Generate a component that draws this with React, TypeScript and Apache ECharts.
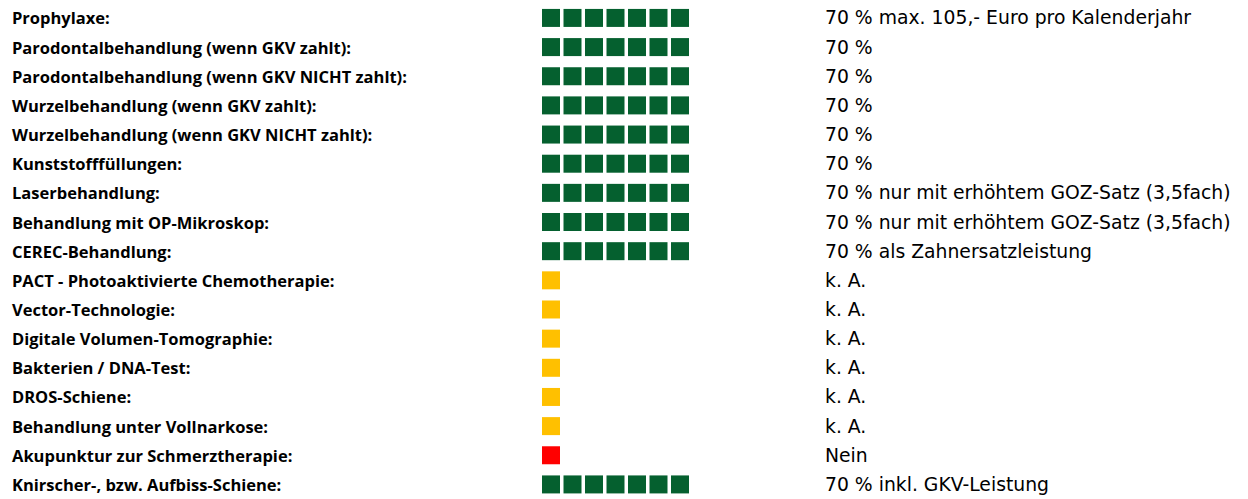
import React, { useEffect, useRef } from "react";
import * as echarts from "echarts";

const categories = [
  "Prophylaxe:",
  "Parodontalbehandlung (wenn GKV zahlt):",
  "Parodontalbehandlung (wenn GKV NICHT zahlt):",
  "Wurzelbehandlung (wenn GKV zahlt):",
  "Wurzelbehandlung (wenn GKV NICHT zahlt):",
  "Kunststofffüllungen:",
  "Laserbehandlung:",
  "Behandlung mit OP-Mikroskop:",
  "CEREC-Behandlung:",
  "PACT - Photoaktivierte Chemotherapie:",
  "Vector-Technologie:",
  "Digitale Volumen-Tomographie:",
  "Bakterien / DNA-Test:",
  "DROS-Schiene:",
  "Behandlung unter Vollnarkose:",
  "Akupunktur zur Schmerztherapie:",
  "Knirscher-, bzw. Aufbiss-Schiene:",
];

const squareCounts = [7, 7, 7, 7, 7, 7, 7, 7, 7, 1, 1, 1, 1, 1, 1, 1, 7];

const statuses = [
  "ok", "ok", "ok", "ok", "ok", "ok", "ok", "ok", "ok",
  "unknown", "unknown", "unknown", "unknown", "unknown", "unknown",
  "no", "ok",
];

const notes = [
  "70 % max. 105,- Euro pro Kalenderjahr",
  "70 %",
  "70 %",
  "70 %",
  "70 %",
  "70 %",
  "70 % nur mit erhöhtem GOZ-Satz (3,5fach)",
  "70 % nur mit erhöhtem GOZ-Satz (3,5fach)",
  "70 % als Zahnersatzleistung",
  "k. A.",
  "k. A.",
  "k. A.",
  "k. A.",
  "k. A.",
  "k. A.",
  "Nein",
  "70 % inkl. GKV-Leistung",
];

const statusColors: Record<string, string> = {
  ok: "#05602F",
  unknown: "#FFC000",
  no: "#FF0000",
};

export default function App() {
  const ref = useRef<HTMLDivElement>(null);

  useEffect(() => {
    if (!ref.current) return;
    const chart = echarts.init(ref.current, undefined, { renderer: "svg" });

    const data: any[] = [];
    categories.forEach((cat, i) => {
      for (let j = 0; j < squareCounts[i]; j++) {
        data.push({
          value: [j, cat],
          itemStyle: { color: statusColors[statuses[i]], opacity: 1 },
        });
      }
    });

    const rowH = 29.3;
    const unit = 21.5;
    const gridLeft = 551 - 0.5 * unit;
    const gridWidth = 7 * unit;
    const gridTop = 18 - rowH / 2;

    chart.setOption({
      animation: false,
      grid: {
        left: gridLeft,
        width: gridWidth,
        top: gridTop,
        height: rowH * categories.length,
        containLabel: false,
      },
      xAxis: {
        type: "value",
        min: -0.5,
        max: 6.5,
        show: false,
      },
      yAxis: [
        {
          type: "category",
          data: categories,
          inverse: true,
          position: "left",
          axisLine: { show: false },
          axisTick: { show: false },
          splitLine: { show: false },
          axisLabel: {
            align: "left",
            margin: gridLeft - 12,
            fontFamily: "Open Sans",
            fontWeight: "bold",
            fontSize: 16.5,
            color: "#000",
            interval: 0,
          },
        },
        {
          type: "category",
          data: notes.map((_, i) => String(i)),
          inverse: true,
          position: "right",
          axisLine: { show: false },
          axisTick: { show: false },
          splitLine: { show: false },
          axisLabel: {
            align: "left",
            margin: 825 - (gridLeft + gridWidth),
            fontFamily: "DejaVu Sans",
            fontSize: 18.8,
            color: "#000",
            interval: 0,
            formatter: (v: string) => notes[Number(v)],
          },
        },
      ],
      series: [
        {
          type: "scatter",
          yAxisIndex: 0,
          symbol: "rect",
          symbolSize: 18,
          itemStyle: { opacity: 1 },
          data,
        },
      ],
    });

    return () => chart.dispose();
  }, []);

  return (
    <div
      ref={ref}
      style={{ position: "fixed", left: 0, top: 0, width: 1248, height: 499, background: "#fff" }}
    />
  );
}
